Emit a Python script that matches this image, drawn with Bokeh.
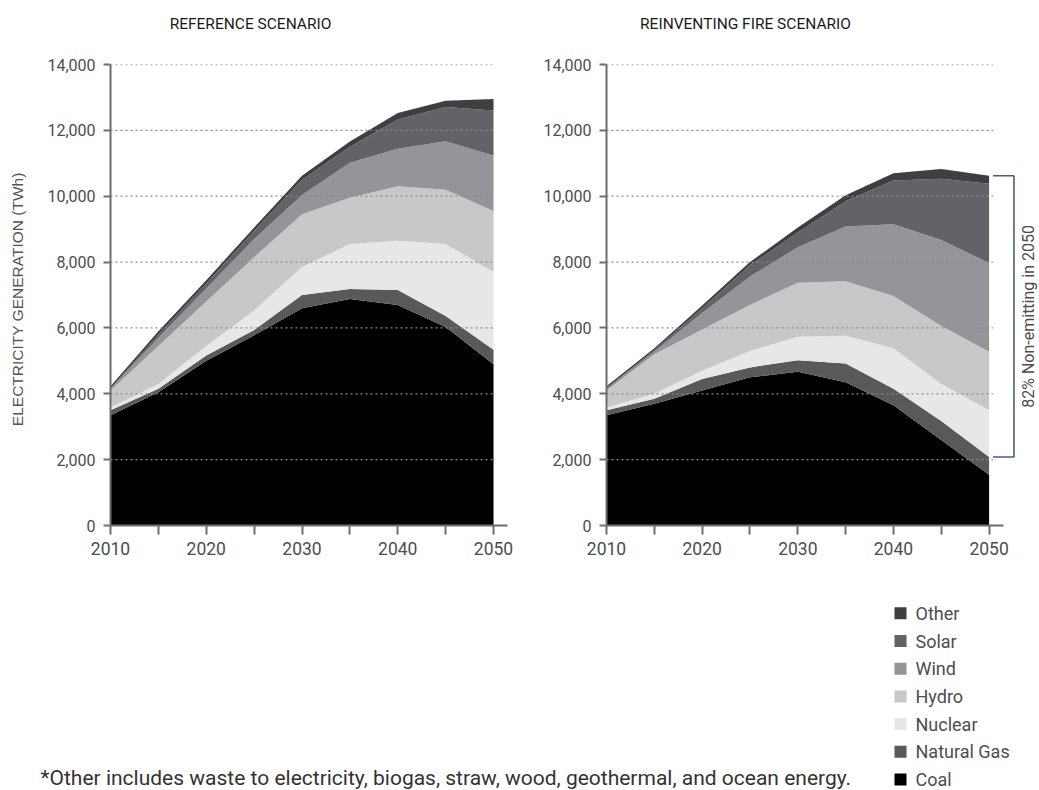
from bokeh.plotting import figure
from bokeh.models import ColumnDataSource, Range1d, FixedTicker, NumeralTickFormatter
from bokeh.layouts import column, row
from bokeh.core.properties import value
from bokeh.embed import file_html
from bokeh.resources import INLINE

# ---------------- data (TWh) ----------------
years = [2010, 2015, 2020, 2025, 2030, 2035, 2040, 2045, 2050]
series = ["Coal", "Natural Gas", "Nuclear", "Hydro", "Wind", "Solar", "Other"]
colors = ["#000000", "#58595b", "#e6e7e8", "#c7c8ca", "#939598", "#626366", "#3f3f41"]

# Reference scenario
ref_coal    = [3350, 4050, 5000, 5780, 6600, 6880, 6700, 6030, 4900]
ref_gas     = [150, 100, 160, 160, 400, 300, 450, 330, 440]
ref_nuclear = [80, 150, 290, 590, 850, 1370, 1500, 2190, 2360]
ref_hydro   = [520, 1150, 1350, 1620, 1600, 1400, 1650, 1650, 1850]
ref_wind    = [50, 250, 400, 550, 590, 1070, 1140, 1470, 1690]
ref_solar   = [20, 100, 150, 250, 460, 480, 890, 1040, 1360]
ref_other   = [60, 100, 100, 100, 120, 160, 200, 190, 350]

# Reinventing Fire scenario
rf_coal    = [3350, 3700, 4100, 4500, 4670, 4350, 3650, 2600, 1540]
rf_gas     = [150, 150, 350, 300, 350, 570, 500, 570, 540]
rf_nuclear = [80, 150, 250, 500, 710, 840, 1230, 1130, 1420]
rf_hydro   = [520, 1200, 1250, 1400, 1640, 1660, 1590, 1760, 1780]
rf_wind    = [50, 80, 500, 860, 1080, 1660, 2180, 2610, 2690]
rf_solar   = [20, 50, 150, 340, 450, 770, 1330, 1860, 2410]
rf_other   = [60, 50, 80, 100, 150, 180, 220, 300, 240]

y_ticks = [0, 2000, 4000, 6000, 8000, 10000, 12000, 14000]
x_ticks = [2010, 2020, 2030, 2040, 2050]
x_minor = [2015, 2025, 2035, 2045]

titles = ["REFERENCE SCENARIO", "REINVENTING FIRE SCENARIO"]
y_label = "ELECTRICITY GENERATION   (TWh)"
bracket_label = "82% Non-emitting in 2050"
footnote = "*Other includes waste to electricity, biogas, straw, wood, geothermal, and ocean energy."

FONT = "Roboto"
AXIS_C = "#6d6e70"
TEXT_C = "#4d4d4f"


def blank_fig(w, h, x0, x1, ytop, ybot):
    f = figure(width=w, height=h, x_range=Range1d(x0, x1), y_range=Range1d(ybot, ytop),
               output_backend="svg", toolbar_location=None, min_border=0,
               x_axis_location=None, y_axis_location=None)
    f.outline_line_color = None
    f.xgrid.visible = False
    f.ygrid.visible = False
    return f


def make_chart(vals, width, border_left, border_right, x_end, grid_end):
    src = ColumnDataSource(dict(year=years, **{s: v for s, v in zip(series, vals)}))
    p = figure(width=width, height=530, x_range=Range1d(2010, x_end), y_range=Range1d(0, 14000),
               output_backend="svg", toolbar_location=None,
               min_border_left=border_left, min_border_right=border_right,
               min_border_top=24, min_border_bottom=45)
    p.outline_line_color = None
    p.xgrid.visible = False
    p.ygrid.visible = False

    p.varea_stack(stackers=series, x="year", source=src, fill_color=colors)

    # dotted horizontal grid drawn on top of the areas
    gy = [t for t in y_ticks if t > 0]
    p.segment(x0=[years[0]] * len(gy), y0=gy, x1=[grid_end] * len(gy), y1=gy,
              line_color="#8c8c8c", line_width=1.3, line_dash="2 3")

    xa = p.xaxis[0]
    xa.ticker = FixedTicker(ticks=x_ticks, minor_ticks=x_minor)
    xa.bounds = (2010, 2051.5)
    ya = p.yaxis[0]
    ya.ticker = FixedTicker(ticks=y_ticks, minor_ticks=[])
    ya.formatter = NumeralTickFormatter(format="0,0")
    for ax in (xa, ya):
        ax.axis_line_color = AXIS_C
        ax.axis_line_width = 2
        ax.major_tick_line_color = AXIS_C
        ax.major_tick_line_width = 2
        ax.minor_tick_line_color = AXIS_C
        ax.minor_tick_line_width = 2
        ax.major_tick_in = 0
        ax.minor_tick_in = 0
        ax.major_label_text_font = FONT
        ax.major_label_text_color = TEXT_C
    xa.major_tick_out = 9
    xa.minor_tick_out = 9
    xa.major_label_text_font_size = "17.5px"
    xa.major_label_standoff = 7
    ya.major_tick_out = 7
    ya.minor_tick_out = 0
    ya.major_label_text_font_size = "16px"
    ya.major_label_standoff = 8
    return p, src


# ---------------- titles ----------------
pt = blank_fig(1039, 40, 0, 1039, 0, 40)
pt.text(x=[250, 745], y=[23, 23], text=titles, text_align="center", text_baseline="middle",
        text_font=value(FONT), text_font_size="15.5px", text_color="#1a1a1a")

# ---------------- charts ----------------
p1, s1 = make_chart([ref_coal, ref_gas, ref_nuclear, ref_hydro, ref_wind, ref_solar, ref_other],
                    535, 110, 28, 2051.46, 2050.2)
p1.yaxis[0].axis_label = y_label
p1.yaxis[0].axis_label_text_font = "Liberation Sans"
p1.yaxis[0].axis_label_text_font_size = "15.5px"
p1.yaxis[0].axis_label_text_font_style = "normal"
p1.yaxis[0].axis_label_text_color = "#555555"
p1.yaxis[0].axis_label_standoff = 18

p2, s2 = make_chart([rf_coal, rf_gas, rf_nuclear, rf_hydro, rf_wind, rf_solar, rf_other],
                    504, 71, 0, 2055.27, 2050.4)

# bracket: from top of fossil (coal+gas) to total in 2050
i_last = len(years) - 1
fossil_2050 = rf_coal[i_last] + rf_gas[i_last]
total_2050 = sum(v[i_last] for v in [rf_coal, rf_gas, rf_nuclear, rf_hydro, rf_wind, rf_solar, rf_other])
p2.line(x=[2050.4, 2052.6, 2052.6, 2050.4], y=[total_2050, total_2050, fossil_2050, fossil_2050],
        line_color="#4b5d82", line_width=1.6)
p2.text(x=[2054.1], y=[(total_2050 + fossil_2050) / 2], text=[bracket_label], angle=1.5707963,
        text_align="center", text_baseline="middle", text_font=value(FONT),
        text_font_size="16px", text_color=TEXT_C)

# ---------------- legend + footnote ----------------
p3 = blank_fig(1039, 220, 0, 1039, 570, 790)
leg_labels = list(reversed(series))
leg_colors = list(reversed(colors))
row_gap = 27.7
leg_y = [779 - row_gap * (len(leg_labels) - 1 - i) for i in range(len(leg_labels))]
p3.scatter(x=[900] * len(leg_labels), y=leg_y, marker="square", size=12,
           fill_color=leg_colors, line_color=None)
p3.text(x=[915] * len(leg_labels), y=leg_y, text=leg_labels, text_baseline="middle",
        text_align="left", text_font=value(FONT), text_font_size="18px", text_color=TEXT_C)
p3.text(x=[40], y=[777], text=[footnote], text_baseline="middle", text_align="left",
        text_font=value(FONT), text_font_size="21px", text_color="#333333")

layout = column(pt, row(p1, p2), p3)
open("out.html", "w").write(file_html(layout, INLINE))
